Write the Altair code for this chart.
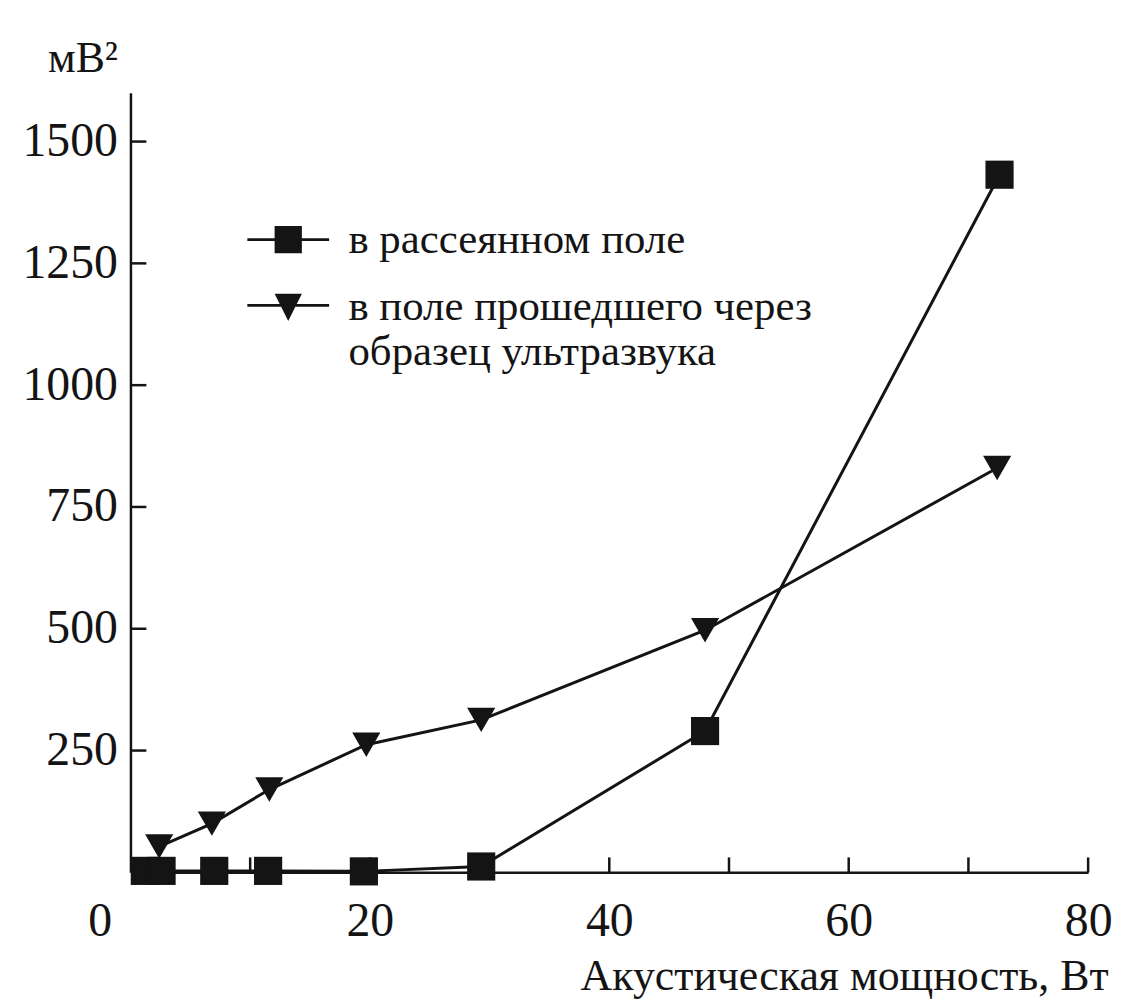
import altair as alt
import pandas as pd

# ---- data ----
series_names = ["в рассеянном поле", "в поле прошедшего через\nобразец ультразвука"]
x_scattered = [1.2, 2.6, 7, 11.5, 19.5, 29.3, 48, 72.6]
y_scattered = [3, 3, 3, 3, 2, 12, 290, 1432]
x_transmitted = [2.4, 6.8, 11.6, 19.7, 29.3, 48, 72.4]
y_transmitted = [53, 100, 170, 262, 313, 497, 830]
x_label_values = [0, 20, 40, 60, 80]
x_tick_values = [10, 20, 30, 40, 50, 60, 70, 80]
y_tick_values = [250, 500, 750, 1000, 1250, 1500]

INK = "#141414"
FONT = "Liberation Serif"
W, H = 962, 783

rows = []
for xv, yv in zip(x_scattered, y_scattered):
    rows.append({"x": xv, "y": yv, "series": series_names[0]})
for xv, yv in zip(x_transmitted, y_transmitted):
    rows.append({"x": xv, "y": yv, "series": series_names[1]})
df = pd.DataFrame(rows)

x_scale = alt.Scale(domain=[0, 80], nice=False, zero=False)
y_scale = alt.Scale(domain=[0, 1600], nice=False, zero=False)

x_axis = alt.Axis(
    values=x_label_values, ticks=False, grid=False, format="d",
    domainColor=INK, domainWidth=2.5,
    labelFont=FONT, labelFontSize=48, labelColor=INK,
    labelBaseline="alphabetic", labelPadding=63, labelFlush=False, labelOverlap=False,
    labelOffset={"condition": {"test": "datum.value == 0", "value": -31}, "value": 0},
    title="Акустическая мощность, Вт", titleFont=FONT, titleFontSize=44,
    titleFontWeight="normal", titleColor=INK, titleAlign="right",
    titleBaseline="alphabetic", titleX=982, titleY=118,
)
y_axis = alt.Axis(
    values=y_tick_values, ticks=False, grid=False, format="d",
    domainColor=INK, domainWidth=2.5,
    labelFont=FONT, labelFontSize=48, labelColor=INK, labelPadding=13,
    labelBaseline="middle", labelOverlap=False,
    title="мВ²", titleFont=FONT, titleFontSize=44, titleFontWeight="normal",
    titleColor=INK, titleAngle=0, titleAlign="right", titleBaseline="alphabetic",
    titleX=-13, titleY=-21,
)


def xe(field):
    return alt.X(field, type="quantitative", scale=x_scale, axis=x_axis)


def ye(field):
    return alt.Y(field, type="quantitative", scale=y_scale, axis=y_axis)


base = alt.Chart(df)

lines = base.mark_line(color=INK, strokeWidth=3).encode(
    x=xe("x"), y=ye("y"), detail="series:N"
)

points = base.mark_point(filled=True, fill=INK, opacity=1, size=800).encode(
    x=xe("x"), y=ye("y"),
    shape=alt.Shape("series:N",
                    scale=alt.Scale(domain=series_names, range=["square", "triangle-down"]),
                    legend=None),
)

# legend glyphs: a short horizontal bar through the marker (all filled areas)
sq_path = "M-3,-0.1H3V0.1H-3ZM-1,-1H1V1H-1Z"
tri_path = "M-3,-0.25H3V-0.05H-3ZM-1,-1H1L0,1Z"

legend_layer = base.transform_filter("false").mark_point(
    filled=True, fill=INK, opacity=1, size=750
).encode(
    x=xe("x"), y=ye("y"),
    shape=alt.Shape("series:N",
                    scale=alt.Scale(domain=series_names, range=[sq_path, tri_path]),
                    legend=alt.Legend(
                        title=None, orient="none", legendX=137, legendY=126,
                        labelFont=FONT, labelFontSize=43, labelColor=INK,
                        labelLimit=0, labelOffset=39, rowPadding=24,
                        symbolSize=750, symbolFillColor=INK,
                        symbolStrokeWidth=0, symbolOpacity=1,
                        labelExpr="split(datum.label, '\\n')",
                        labelBaseline="middle", padding=0,
                    )),
)

xticks = alt.Chart(pd.DataFrame({"x": x_tick_values})).mark_rule(
    color=INK, strokeWidth=2.5
).encode(x=xe("x"), y=alt.value(H), y2=alt.value(H - 15))

yticks = alt.Chart(pd.DataFrame({"y": y_tick_values})).mark_rule(
    color=INK, strokeWidth=2.5
).encode(y=ye("y"), x=alt.value(0), x2=alt.value(16))

chart = alt.layer(xticks, yticks, lines, points, legend_layer).resolve_scale(
    shape="independent"
).properties(
    width=W, height=H,
    autosize=alt.AutoSizeParams(type="none"),
    padding={"left": 123, "top": 83, "right": 28, "bottom": 128},
    background="white",
).configure_view(stroke=None)

chart.save("out.html", embed_options={"renderer": "svg", "actions": False})
